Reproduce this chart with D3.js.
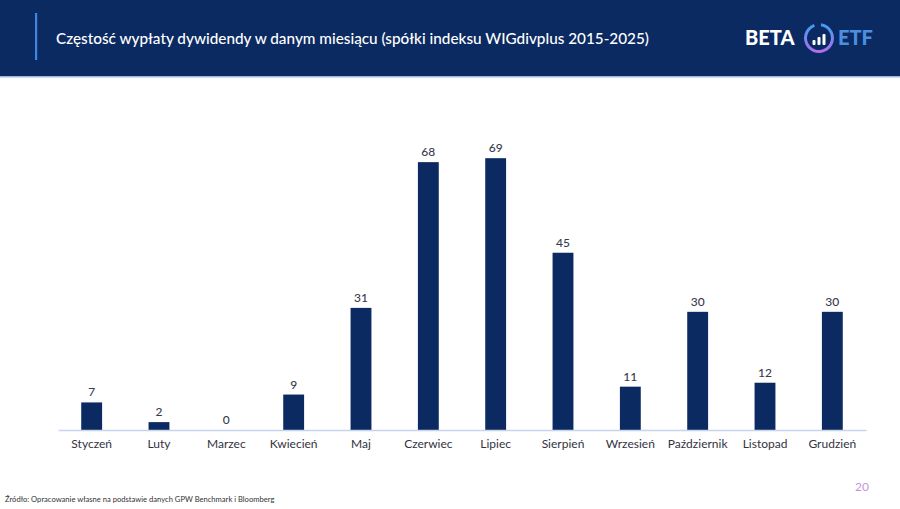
<!DOCTYPE html>
<html>
<head>
<meta charset="utf-8">
<script src="https://cdn.jsdelivr.net/npm/d3@7"></script>
<style>
  html, body { margin: 0; padding: 0; background: #fff; }
  svg { display: block; font-family: Lato, "Open Sans", sans-serif; }
</style>
</head>
<body>
<div id="chart"></div>
<script>
// chart data
const months = ['Styczeń', 'Luty', 'Marzec', 'Kwiecień', 'Maj', 'Czerwiec', 'Lipiec',
  'Sierpień', 'Wrzesień', 'Październik', 'Listopad', 'Grudzień'];
const payouts = [7, 2, 0, 9, 31, 68, 69, 45, 11, 30, 12, 30];

const title = 'Częstość wypłaty dywidendy w danym miesiącu (spółki indeksu WIGdivplus 2015-2025)';
const source = 'Źródło: Opracowanie własne na podstawie danych GPW Benchmark i Bloomberg';
const pageNo = '20';

const width = 900, height = 509;
const navy = '#0b2a61';

const svg = d3.select('#chart').append('svg')
  .attr('width', width)
  .attr('height', height);

// header band
svg.append('rect')
  .attr('width', width).attr('height', 76)
  .attr('fill', navy);
svg.append('rect')
  .attr('y', 76).attr('width', width).attr('height', 1.5)
  .attr('fill', '#9fb6de');
svg.append('rect')
  .attr('x', 35).attr('y', 13).attr('width', 2.2).attr('height', 47)
  .attr('fill', '#3f86e0');
svg.append('text')
  .attr('x', 56).attr('y', 44)
  .attr('fill', '#fff')
  .attr('font-size', 15.3)
  .attr('font-weight', 500)
  .text(title);

// logo
const logo = svg.append('g');
logo.append('text')
  .attr('x', 745).attr('y', 45)
  .attr('fill', '#fff').attr('font-weight', 900).attr('font-size', 20)
  .text('BETA');
const defs = svg.append('defs');
const grad = defs.append('linearGradient').attr('id', 'ring')
  .attr('x1', 0).attr('y1', 0).attr('x2', 0).attr('y2', 1);
grad.append('stop').attr('offset', '0%').attr('stop-color', '#3aa0f0');
grad.append('stop').attr('offset', '100%').attr('stop-color', '#b46cf0');
logo.append('path')
  .attr('transform', 'translate(819,38)')
  .attr('d', d3.arc().innerRadius(12).outerRadius(15).startAngle(0.15).endAngle(Math.PI * 2 - 0.35)())
  .attr('fill', 'url(#ring)');
[[-5, 5], [0, 8], [5, 11]].forEach(([dx, h]) => {
  logo.append('rect')
    .attr('x', 819 + dx - 1.5).attr('y', 45 - h)
    .attr('width', 3).attr('height', h)
    .attr('rx', 1)
    .attr('fill', '#fff');
});
logo.append('text')
  .attr('x', 838).attr('y', 45)
  .attr('fill', '#4a8fe0').attr('font-weight', 900).attr('font-size', 20)
  .text('ETF');

// bar chart
const x = d3.scaleBand()
  .domain(months)
  .range([58, 866])
  .paddingInner(0.69)
  .paddingOuter(0.345);

const y = d3.scaleLinear()
  .domain([0, 69])
  .range([430, 158.2]);

const bars = svg.append('g');
bars.selectAll('rect')
  .data(payouts)
  .join('rect')
  .attr('x', (d, i) => x(months[i]))
  .attr('y', d => y(d))
  .attr('width', x.bandwidth())
  .attr('height', d => y(0) - y(d))
  .attr('fill', navy);

bars.selectAll('text')
  .data(payouts)
  .join('text')
  .attr('x', (d, i) => x(months[i]) + x.bandwidth() / 2)
  .attr('y', d => y(d) - 6)
  .attr('text-anchor', 'middle')
  .attr('font-size', 12)
  .attr('font-weight', 500)
  .attr('fill', '#3a3a4c')
  .text(d => d);

const xAxis = svg.append('g')
  .attr('transform', `translate(0,${y(0)})`)
  .call(d3.axisBottom(x).tickSize(0).tickPadding(9));
xAxis.select('.domain')
  .attr('stroke', '#c6d4ec')
  .attr('stroke-width', 1.5);
xAxis.selectAll('.tick text')
  .attr('font-family', 'Lato, "Open Sans", sans-serif')
  .attr('font-size', 12)
  .attr('fill', '#333340');

// footer
svg.append('text')
  .attr('x', 5).attr('y', 502)
  .attr('font-size', 7.6)
  .attr('fill', '#333')
  .text(source);
svg.append('text')
  .attr('x', 862).attr('y', 491)
  .attr('text-anchor', 'middle')
  .attr('font-size', 12)
  .attr('fill', '#c592dc')
  .text(pageNo);
</script>
</body>
</html>
